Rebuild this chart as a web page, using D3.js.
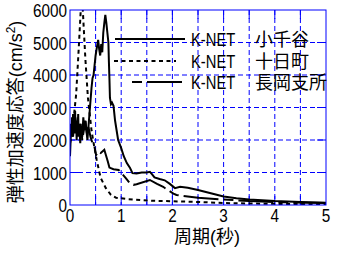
<!DOCTYPE html>
<html>
<head>
<meta charset="utf-8">
<script src="https://d3js.org/d3.v7.min.js"></script>
<style>
  body { margin: 0; background: #fff; }
  text { font-family: "Liberation Sans", Arial, sans-serif; font-size: 18px; fill: #000; }
  .jp { font-family: "Noto Sans CJK JP", sans-serif; }
  .lat { font-family: "Liberation Sans", Arial, sans-serif; }
</style>
</head>
<body>
<svg id="chart" width="340" height="259"></svg>
<script>
// period (s) and spectral acceleration (cm/s^2)
var ojiyaT = [0,0.01,0.02,0.03,0.04,0.05,0.06,0.07,0.08,0.09,0.10,0.11,0.12,0.13,0.14,0.15,0.16,0.17,0.18,0.19,0.20,0.22,0.24,0.26,0.28,0.30,0.32,0.34,0.36,0.38,0.40,0.42,0.44,0.46,0.48,0.50,0.52,0.55,0.57,0.59,0.61,0.63,0.65,0.67,0.69,0.71,0.73,0.75,0.76,0.77,0.78,0.80,0.82,0.85,0.88,0.91,0.94,1.00,1.05,1.11,1.17,1.22,1.30,1.40,1.50,1.56,1.60,1.65,1.75,1.85,1.95,2.05,2.15,2.30,2.50,2.75,3.00,3.25,3.50,4.00,4.50,5.00];
var ojiyaA = [1500,1900,2500,2100,2700,2300,2800,2200,2600,2400,2900,2200,2500,2000,2600,2300,2800,2100,2500,2200,1900,2400,2100,2700,2300,2600,2300,2000,2400,2800,3200,3600,3900,4000,4300,4600,4800,5080,4800,4600,4950,4700,5300,5600,5850,5600,5300,5000,4400,3900,3300,3100,3150,3050,2600,2300,2000,1750,1500,1290,1150,980,970,1000,1000,1020,950,850,800,760,650,520,560,530,460,360,260,210,170,120,90,70];

var tokamachiT = [0,0.04,0.08,0.12,0.17,0.21,0.23,0.25,0.30,0.35,0.42,0.45,0.52,0.57,0.60,0.70,0.80,0.90,1.10,1.60,2.40,3.00,4.00,5.00];
var tokamachiA = [1900,2200,2800,3400,4800,6000,6400,6000,4500,3300,2300,2000,1400,1030,830,520,310,225,185,130,100,60,35,20];

var nagaokaT = [0,0.03,0.06,0.09,0.12,0.15,0.18,0.21,0.24,0.27,0.30,0.33,0.36,0.40,0.44,0.47,0.51,0.55,0.60,0.67,0.74,0.77,0.85,0.95,1.09,1.17,1.24,1.30,1.56,1.70,1.82,1.90,2.02,2.08,2.50,3.00,3.50,4.00,5.00];
var nagaokaA = [2000,2400,2100,2600,2300,2700,2200,2500,2000,2300,2600,2200,2400,2100,1900,1850,1540,1650,1600,1700,1330,1150,1100,1080,830,670,620,640,770,650,560,470,350,310,220,170,120,90,60];

var xTicks = [0,1,2,3,4,5];
var yTicks = [0,1000,2000,3000,4000,5000,6000];
var xGrid = [0.5,1,1.5,2,2.5,3,3.5,4,4.5];
var yGrid = [1000,2000,3000,4000,5000];

var legendNames = ["小千谷", "十日町", "長岡支所"];

var pL = 70, pR = 326, pT = 10, pB = 205;
var blue = "#0000ff";
var narrow = 0.85;

var svg = d3.select("#chart");
var x = d3.scaleLinear().domain([0, 5]).range([pL, pR]);
var y = d3.scaleLinear().domain([0, 6000]).range([pB, pT]);

svg.append("clipPath").attr("id", "plotclip")
  .append("rect").attr("x", pL).attr("y", pT)
  .attr("width", pR - pL).attr("height", pB - pT);

// grid
svg.append("g").selectAll("line").data(xGrid).enter().append("line")
  .attr("x1", d => x(d)).attr("x2", d => x(d))
  .attr("y1", pT).attr("y2", pB)
  .attr("stroke", blue).attr("stroke-dasharray", "5,3");
svg.append("g").selectAll("line").data(yGrid).enter().append("line")
  .attr("y1", d => y(d)).attr("y2", d => y(d))
  .attr("x1", pL).attr("x2", pR)
  .attr("stroke", blue).attr("stroke-dasharray", "5,3");

// inner ticks on all four sides
var tk = 9;
svg.append("g").selectAll("line").data(xGrid).enter().append("line")
  .attr("x1", d => x(d)).attr("x2", d => x(d))
  .attr("y1", pB).attr("y2", pB - tk).attr("stroke", blue);
svg.append("g").selectAll("line").data(xGrid).enter().append("line")
  .attr("x1", d => x(d)).attr("x2", d => x(d))
  .attr("y1", pT).attr("y2", pT + tk).attr("stroke", blue);
svg.append("g").selectAll("line").data(yGrid).enter().append("line")
  .attr("y1", d => y(d)).attr("y2", d => y(d))
  .attr("x1", pL).attr("x2", pL + tk).attr("stroke", blue);
svg.append("g").selectAll("line").data(yGrid).enter().append("line")
  .attr("y1", d => y(d)).attr("y2", d => y(d))
  .attr("x1", pR).attr("x2", pR - tk).attr("stroke", blue);

// curves
var line = d3.line().x(d => x(d[0])).y(d => y(d[1]));
var curves = [
  {t: ojiyaT, a: ojiyaA, dash: null},
  {t: tokamachiT, a: tokamachiA, dash: "4,3.5"},
  {t: nagaokaT, a: nagaokaA, dash: "10,5,35,5"}
];
var plot = svg.append("g").attr("clip-path", "url(#plotclip)");
curves.forEach(function(c) {
  plot.append("path")
    .datum(d3.zip(c.t, c.a))
    .attr("d", line)
    .attr("fill", "none")
    .attr("stroke", "#000")
    .attr("stroke-width", 2)
    .attr("stroke-dasharray", c.dash);
});

// frame
svg.append("rect").attr("x", pL).attr("y", pT)
  .attr("width", pR - pL).attr("height", pB - pT)
  .attr("fill", "none").attr("stroke", blue);

// tick labels (narrowed latin font)
svg.append("g").selectAll("text").data(xTicks).enter().append("text")
  .attr("transform", d => "translate(" + x(d) + ",222) scale(" + narrow + ",1)")
  .attr("text-anchor", "middle").text(d => d);
svg.append("g").selectAll("text").data(yTicks).enter().append("text")
  .attr("transform", d => "translate(67," + (y(d) + 7) + ") scale(" + narrow + ",1)")
  .attr("text-anchor", "end").text(d => d);

// axis titles
var xt = svg.append("text").attr("class", "jp")
  .attr("x", 207).attr("y", 243).attr("text-anchor", "middle");
xt.append("tspan").text("周期");
xt.append("tspan").attr("class", "lat").text("(");
xt.append("tspan").text("秒");
xt.append("tspan").attr("class", "lat").text(")");

var yt = svg.append("text").attr("class", "jp")
  .attr("transform", "translate(22,112) rotate(-90)")
  .attr("text-anchor", "middle");
yt.append("tspan").text("弾性加速度応答");
yt.append("tspan").attr("class", "lat").text("(cm/s");
yt.append("tspan").attr("class", "lat").attr("dy", -7).style("font-size", "12px").text("2");
yt.append("tspan").attr("class", "lat").attr("dy", 7).text(")");

// legend
var legY = [39, 61, 82];
var legX1 = [115, 114, 132], legX2 = [185, 176, 182];
curves.forEach(function(c, i) {
  svg.append("line")
    .attr("x1", legX1[i]).attr("x2", legX2[i])
    .attr("y1", legY[i]).attr("y2", legY[i])
    .attr("stroke", "#000").attr("stroke-width", 2)
    .attr("stroke-dasharray", c.dash);
  svg.append("text")
    .attr("transform", "translate(191," + (legY[i] + 6.5) + ") scale(0.82,1)")
    .text("K-NET");
  svg.append("text").attr("class", "jp").attr("x", 255).attr("y", legY[i] + 6.5).text(legendNames[i]);
});
</script>
</body>
</html>
